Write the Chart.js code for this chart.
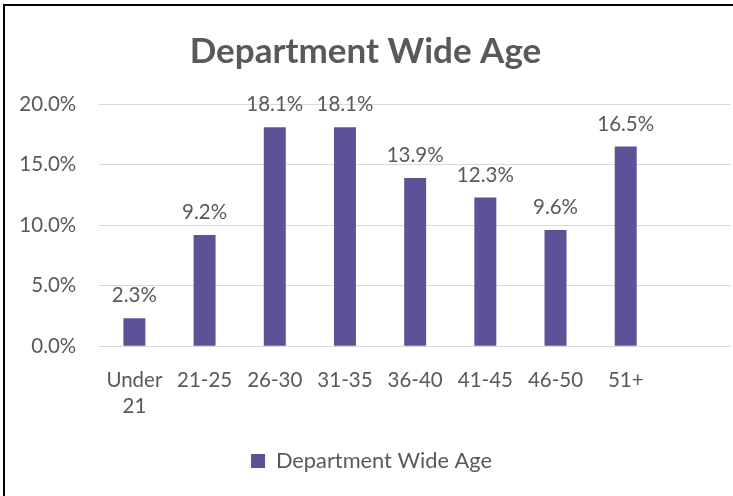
<!DOCTYPE html>
<html>
<head>
<meta charset="utf-8">
<script src="https://cdn.jsdelivr.net/npm/chart.js@4.4.1/dist/chart.umd.min.js"></script>
<style>
  html, body { margin: 0; padding: 0; background: #fff; overflow: hidden; }
  #wrap { position: relative; width: 733px; height: 496px; }
  #c { position: absolute; left: 0; top: 0; }
  #frame { position: absolute; left: 3px; top: 4px; width: 740px; height: 500px;
           border-top: 2px solid #000; border-left: 2px solid #000; pointer-events: none; }
</style>
</head>
<body>
<div id="wrap">
  <canvas id="c" width="733" height="496"></canvas>
  <div id="frame"></div>
</div>
<script>
// ---- data ----
const categories = [['Under', '21'], '21-25', '26-30', '31-35', '36-40', '41-45', '46-50', '51+', ''];
const ageShare = [2.3, 9.2, 18.1, 18.1, 13.9, 12.3, 9.6, 16.5, null];
const seriesName = 'Department Wide Age';
const chartTitle = 'Department Wide Age';
const yTicks = [0, 5, 10, 15, 20];

const FONT = 'Lato, "Open Sans", sans-serif';
const TEXT = '#595959';
const BAR = '#5B5297';

const dataLabels = {
  id: 'dataLabels',
  afterDatasetsDraw(chart) {
    const ctx = chart.ctx;
    ctx.save();
    ctx.font = '20.5px ' + FONT;
    ctx.fillStyle = TEXT;
    ctx.textAlign = 'center';
    ctx.textBaseline = 'middle';
    const meta = chart.getDatasetMeta(0);
    meta.data.forEach((bar, i) => {
      const v = ageShare[i];
      if (v === null || v === undefined) return;
      ctx.fillText(v.toFixed(1) + '%', bar.x, bar.y - 22.5);
    });
    ctx.restore();
  }
};

const legendShift = {
  id: 'legendShift',
  afterLayout(chart) {
    if (chart.legend) { chart.legend.left += 6; chart.legend.right += 6; }
  }
};

new Chart(document.getElementById('c'), {
  type: 'bar',
  data: {
    labels: categories,
    datasets: [{
      label: seriesName,
      data: ageShare,
      backgroundColor: BAR,
      borderWidth: 0,
      barPercentage: 0.313,
      categoryPercentage: 1
    }]
  },
  options: {
    responsive: false,
    animation: false,
    devicePixelRatio: 1,
    layout: { padding: { top: 0, left: 0, right: 2, bottom: 14 } },
    plugins: {
      title: {
        display: true,
        text: chartTitle,
        color: TEXT,
        font: { family: FONT, size: 35, weight: 'bold', lineHeight: 1.2 },
        padding: { top: 31, bottom: 31.3 }
      },
      legend: {
        display: true,
        position: 'bottom',
        labels: {
          color: TEXT,
          font: { family: FONT, size: 21.8 },
          boxWidth: 14,
          boxHeight: 14,
          padding: 10
        }
      },
      tooltip: { enabled: false }
    },
    scales: {
      x: {
        grid: { display: false, drawTicks: false },
        border: { display: false },
        ticks: {
          color: TEXT,
          font: { family: FONT, size: 20.5, lineHeight: 1.25 },
          padding: 21.5,
          maxRotation: 0,
          autoSkip: false
        },
        afterFit(scale) { scale.height = 94.05; }
      },
      y: {
        min: 0,
        max: 20,
        grid: { color: '#D9D9D9', lineWidth: 1, drawTicks: false },
        border: { display: false },
        ticks: {
          color: TEXT,
          font: { family: FONT, size: 20.5 },
          padding: 23,
          stepSize: 5,
          callback: (v) => yTicks.includes(v) ? v.toFixed(1) + '%' : ''
        },
        afterFit(scale) { scale.width = 99.3; }
      }
    }
  },
  plugins: [dataLabels, legendShift]
});
</script>
</body>
</html>
